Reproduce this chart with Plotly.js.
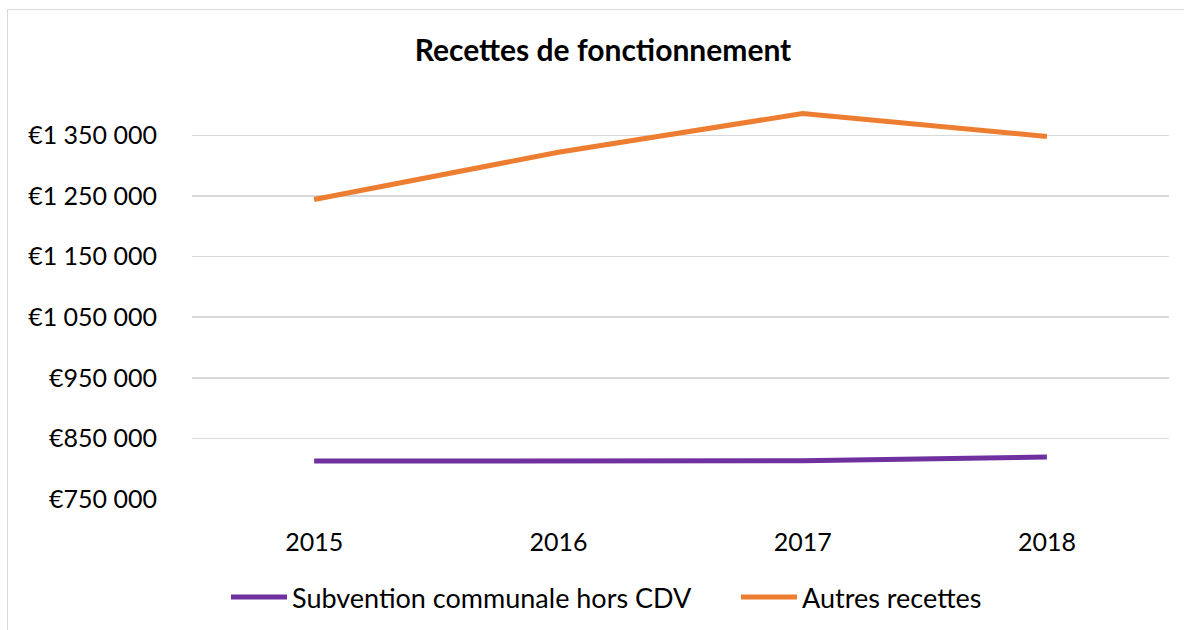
<!DOCTYPE html>
<html>
<head>
<meta charset="utf-8">
<script src="https://cdn.plot.ly/plotly-3.0.1.min.js"></script>
<style>
html,body{margin:0;padding:0;background:#fff;}
#wrap{position:relative;width:1184px;height:630px;}
#chart{width:1184px;height:630px;}
#frame{position:absolute;left:7px;top:9px;width:1200px;height:700px;border:1.5px solid #d9d9d9;pointer-events:none;box-sizing:border-box;}
</style>
</head>
<body>
<div id="wrap"><div id="chart"></div><div id="frame"></div></div>
<script>
const years = ['2015', '2016', '2017', '2018'];
const subventionCommunale = [812800, 812800, 813000, 819400];
const autresRecettes = [1244000, 1322000, 1386000, 1348000];
const seriesNames = ['Subvention communale hors CDV', 'Autres recettes'];
const yTickVals = [750000, 850000, 950000, 1050000, 1150000, 1250000, 1350000];
const yTickText = ['€750 000', '€850 000', '€950 000', '€1 050 000', '€1 150 000', '€1 250 000', '€1 350 000'];

const font = 'Lato, "Open Sans", sans-serif';
const traces = [
  {x: years, y: subventionCommunale, name: seriesNames[0], type: 'scatter', mode: 'lines',
   line: {color: '#7030A0', width: 5}, legend: 'legend'},
  {x: years, y: autresRecettes, name: seriesNames[1], type: 'scatter', mode: 'lines',
   line: {color: '#ED7D31', width: 5}, legend: 'legend2'}
];
const legendBase = {orientation: 'h', xref: 'paper', xanchor: 'left', y: -0.25, yanchor: 'middle',
                    font: {size: 27}, itemwidth: 56, bgcolor: 'rgba(0,0,0,0)'};
const layout = {
  width: 1184, height: 630,
  margin: {l: 192, r: 15, t: 105, b: 131, autoexpand: false},
  paper_bgcolor: '#fff', plot_bgcolor: '#fff',
  font: {family: font, color: '#000', size: 25},
  title: {text: '<b>Recettes de fonctionnement</b>', font: {family: font, size: 30, color: '#000'},
          x: 603 / 1184, xanchor: 'center', xref: 'container', y: 0.92, yanchor: 'middle'},
  xaxis: {type: 'category', range: [-0.5, 3.5], showgrid: false, zeroline: false, showline: false,
          ticks: '', ticklabelstandoff: 26, tickfont: {size: 25}},
  yaxis: {range: [750000, 1400000], tickvals: yTickVals, ticktext: yTickText,
          showgrid: true, gridcolor: '#d9d9d9', gridwidth: 1.5, zeroline: false, showline: false,
          ticks: '', ticklabelstandoff: 34, tickfont: {size: 25}},
  showlegend: true,
  legend: Object.assign({}, legendBase, {x: (226 - 192) / 977}),
  legend2: Object.assign({}, legendBase, {x: (736 - 192) / 977})
};
Plotly.newPlot('chart', traces, layout, {displayModeBar: false, staticPlot: true});
</script>
</body>
</html>
